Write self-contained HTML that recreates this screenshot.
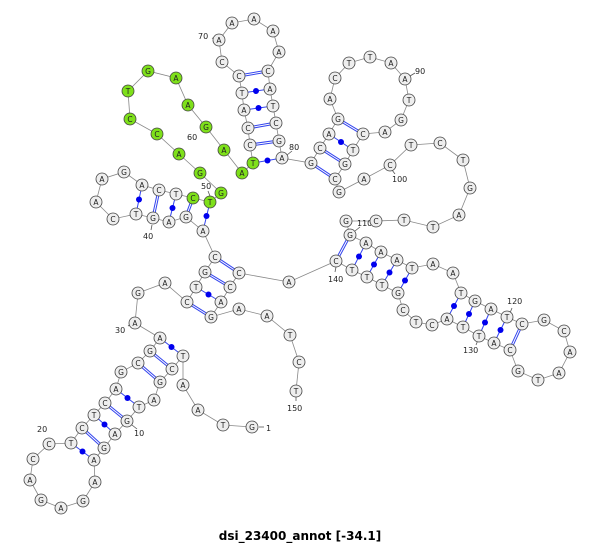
<!DOCTYPE html>
<html><head><meta charset="utf-8"><style>
html,body{margin:0;padding:0;background:#fff;width:600px;height:544px;overflow:hidden}
svg{display:block}
.n circle{fill:#eee;stroke:#444;stroke-width:0.8}
.n circle.g{fill:#7ee01a}
.t text{font-family:"DejaVu Sans","Liberation Sans",sans-serif;font-size:7.5px;text-anchor:middle;fill:#222}
.l text{font-family:"DejaVu Sans","Liberation Sans",sans-serif;font-size:8px;fill:#222}
</style></head><body>
<svg width="600" height="544" viewBox="0 0 600 544" xmlns="http://www.w3.org/2000/svg">
<polyline fill="none" stroke="#888" stroke-width="0.8" points="252,427 223,425 198,410 183,385 183,356 172,369 160,382 154,400 139,407 127,421 115,434 104,448 94,460 95,482 83,501 61,508 41,500 30,480 33,459 49,444 71,443 82,428 94,415 105,403 116,389 121,372 138,363 150,351 160,338 135,323 138,293 165,283 187,302 196,287 205,272 215,257 203,231 186,217 169,222 153,218 136,214 113,219 96,202 102,179 124,172 142,185 159,190 176,194 193,198 210,202 221,193 200,173 179,154 157,134 130,119 128,91 148,71 176,78 188,105 206,127 224,150 242,173 253,163 250,145 248,128 244,110 242,93 239,76 222,62 219,40 232,23 254,19 273,31 279,52 268,71 270,89 273,106 276,123 279,141 282,158 311,163 320,148 329,134 338,119 330,99 335,78 349,63 370,57 391,63 405,79 409,100 401,120 385,132 363,134 353,150 345,164 335,179 339,192 364,179 390,165 411,145 440,143 463,160 470,188 459,215 433,227 404,220 376,221 346,221 350,235 366,243 381,252 397,260 412,268 433,264 453,273 461,293 475,301 491,309 507,317 522,324 544,320 564,331 570,352 559,373 538,380 518,371 510,350 494,343 479,336 463,327 447,319 432,325 416,322 403,310 398,293 382,285 367,277 352,270 336,261 289,282 239,273 230,287 221,302 211,317 239,309 267,316 290,335 299,362 296,391"/>
<g stroke="#3344ee" stroke-width="3">
<line x1="172" y1="369" x2="150" y2="351"/><line x1="160" y1="382" x2="138" y2="363"/><line x1="127" y1="421" x2="105" y2="403"/><line x1="104" y1="448" x2="82" y2="428"/>
<line x1="187" y1="302" x2="211" y2="317"/><line x1="205" y1="272" x2="230" y2="287"/><line x1="215" y1="257" x2="239" y2="273"/>
<line x1="186" y1="217" x2="193" y2="198"/><line x1="153" y1="218" x2="159" y2="190"/>
<line x1="250" y1="145" x2="279" y2="141"/><line x1="248" y1="128" x2="276" y2="123"/><line x1="239" y1="76" x2="268" y2="71"/>
<line x1="311" y1="163" x2="335" y2="179"/><line x1="320" y1="148" x2="345" y2="164"/><line x1="338" y1="119" x2="363" y2="134"/>
<line x1="350" y1="235" x2="336" y2="261"/><line x1="522" y1="324" x2="510" y2="350"/>
</g>
<g stroke="#fff" stroke-width="1">
<line x1="172" y1="369" x2="150" y2="351"/><line x1="160" y1="382" x2="138" y2="363"/><line x1="127" y1="421" x2="105" y2="403"/><line x1="104" y1="448" x2="82" y2="428"/>
<line x1="187" y1="302" x2="211" y2="317"/><line x1="205" y1="272" x2="230" y2="287"/><line x1="215" y1="257" x2="239" y2="273"/>
<line x1="186" y1="217" x2="193" y2="198"/><line x1="153" y1="218" x2="159" y2="190"/>
<line x1="250" y1="145" x2="279" y2="141"/><line x1="248" y1="128" x2="276" y2="123"/><line x1="239" y1="76" x2="268" y2="71"/>
<line x1="311" y1="163" x2="335" y2="179"/><line x1="320" y1="148" x2="345" y2="164"/><line x1="338" y1="119" x2="363" y2="134"/>
<line x1="350" y1="235" x2="336" y2="261"/><line x1="522" y1="324" x2="510" y2="350"/>
</g>
<g stroke="#3344ee" stroke-width="1">
<line x1="183" y1="356" x2="160" y2="338"/><line x1="139" y1="407" x2="116" y2="389"/><line x1="115" y1="434" x2="94" y2="415"/><line x1="94" y1="460" x2="71" y2="443"/>
<line x1="196" y1="287" x2="221" y2="302"/><line x1="203" y1="231" x2="210" y2="202"/><line x1="169" y1="222" x2="176" y2="194"/><line x1="136" y1="214" x2="142" y2="185"/>
<line x1="253" y1="163" x2="282" y2="158"/><line x1="244" y1="110" x2="273" y2="106"/><line x1="242" y1="93" x2="270" y2="89"/>
<line x1="329" y1="134" x2="353" y2="150"/>
<line x1="366" y1="243" x2="352" y2="270"/><line x1="381" y1="252" x2="367" y2="277"/><line x1="397" y1="260" x2="382" y2="285"/><line x1="412" y1="268" x2="398" y2="293"/>
<line x1="461" y1="293" x2="447" y2="319"/><line x1="475" y1="301" x2="463" y2="327"/><line x1="491" y1="309" x2="479" y2="336"/><line x1="507" y1="317" x2="494" y2="343"/>
</g>
<g fill="#0000ee">
<circle cx="171.5" cy="347" r="3"/><circle cx="127.5" cy="398" r="3"/><circle cx="104.5" cy="424.5" r="3"/><circle cx="82.5" cy="451.5" r="3"/>
<circle cx="208.5" cy="294.5" r="3"/><circle cx="206.5" cy="216" r="3"/><circle cx="172.5" cy="208" r="3"/><circle cx="139" cy="199.5" r="3"/>
<circle cx="267.5" cy="160.5" r="3"/><circle cx="258.5" cy="108" r="3"/><circle cx="256" cy="91" r="3"/><circle cx="341" cy="142" r="3"/>
<circle cx="359" cy="256.5" r="3"/><circle cx="374" cy="264.5" r="3"/><circle cx="389.5" cy="272.5" r="3"/><circle cx="405" cy="280.5" r="3"/>
<circle cx="454" cy="306" r="3"/><circle cx="469" cy="314" r="3"/><circle cx="485" cy="322.5" r="3"/><circle cx="500.5" cy="330" r="3"/>
</g>
<g stroke="#555" stroke-width="0.8">
<line x1="259" y1="427" x2="264" y2="427"/><line x1="132" y1="425" x2="137" y2="429"/><line x1="45" y1="439" x2="49" y2="444"/><line x1="128" y1="326" x2="133" y2="323"/>
<line x1="152" y1="225" x2="151" y2="230"/><line x1="208" y1="191" x2="210" y2="196"/><line x1="201" y1="131" x2="205" y2="127"/><line x1="212" y1="38" x2="217" y2="40"/>
<line x1="287" y1="155" x2="292" y2="151"/><line x1="410" y1="76" x2="415" y2="73"/><line x1="392" y1="170" x2="395" y2="174"/><line x1="355" y1="231" x2="360" y2="227"/>
<line x1="510" y1="313" x2="512" y2="308"/><line x1="478" y1="340" x2="476" y2="345"/><line x1="336" y1="267" x2="335" y2="272"/><line x1="296" y1="397" x2="296" y2="401"/>
</g>
<g class="l">
<text x="266" y="431">1</text><text x="134" y="436">10</text><text x="37" y="432">20</text><text x="115" y="333">30</text>
<text x="143" y="239">40</text><text x="201" y="189">50</text><text x="187" y="140">60</text><text x="198" y="39">70</text>
<text x="289" y="150">80</text><text x="415" y="74">90</text><text x="392" y="182">100</text><text x="357" y="226">110</text>
<text x="507" y="304">120</text><text x="463" y="353">130</text><text x="328" y="282">140</text><text x="287" y="411">150</text>
</g>
<g class="n">
<circle cx="252" cy="427" r="6"/><circle cx="223" cy="425" r="6"/><circle cx="198" cy="410" r="6"/><circle cx="183" cy="385" r="6"/><circle cx="183" cy="356" r="6"/><circle cx="172" cy="369" r="6"/><circle cx="160" cy="382" r="6"/><circle cx="154" cy="400" r="6"/><circle cx="139" cy="407" r="6"/><circle cx="127" cy="421" r="6"/>
<circle cx="115" cy="434" r="6"/><circle cx="104" cy="448" r="6"/><circle cx="94" cy="460" r="6"/><circle cx="95" cy="482" r="6"/><circle cx="83" cy="501" r="6"/><circle cx="61" cy="508" r="6"/><circle cx="41" cy="500" r="6"/><circle cx="30" cy="480" r="6"/><circle cx="33" cy="459" r="6"/><circle cx="49" cy="444" r="6"/>
<circle cx="71" cy="443" r="6"/><circle cx="82" cy="428" r="6"/><circle cx="94" cy="415" r="6"/><circle cx="105" cy="403" r="6"/><circle cx="116" cy="389" r="6"/><circle cx="121" cy="372" r="6"/><circle cx="138" cy="363" r="6"/><circle cx="150" cy="351" r="6"/><circle cx="160" cy="338" r="6"/><circle cx="135" cy="323" r="6"/>
<circle cx="138" cy="293" r="6"/><circle cx="165" cy="283" r="6"/><circle cx="187" cy="302" r="6"/><circle cx="196" cy="287" r="6"/><circle cx="205" cy="272" r="6"/><circle cx="215" cy="257" r="6"/><circle cx="203" cy="231" r="6"/><circle cx="186" cy="217" r="6"/><circle cx="169" cy="222" r="6"/><circle cx="153" cy="218" r="6"/>
<circle cx="136" cy="214" r="6"/><circle cx="113" cy="219" r="6"/><circle cx="96" cy="202" r="6"/><circle cx="102" cy="179" r="6"/><circle cx="124" cy="172" r="6"/><circle cx="142" cy="185" r="6"/><circle cx="159" cy="190" r="6"/><circle cx="176" cy="194" r="6"/><circle class="g" cx="193" cy="198" r="6"/><circle class="g" cx="210" cy="202" r="6"/>
<circle class="g" cx="221" cy="193" r="6"/><circle class="g" cx="200" cy="173" r="6"/><circle class="g" cx="179" cy="154" r="6"/><circle class="g" cx="157" cy="134" r="6"/><circle class="g" cx="130" cy="119" r="6"/><circle class="g" cx="128" cy="91" r="6"/><circle class="g" cx="148" cy="71" r="6"/><circle class="g" cx="176" cy="78" r="6"/><circle class="g" cx="188" cy="105" r="6"/><circle class="g" cx="206" cy="127" r="6"/>
<circle class="g" cx="224" cy="150" r="6"/><circle class="g" cx="242" cy="173" r="6"/><circle class="g" cx="253" cy="163" r="6"/><circle cx="250" cy="145" r="6"/><circle cx="248" cy="128" r="6"/><circle cx="244" cy="110" r="6"/><circle cx="242" cy="93" r="6"/><circle cx="239" cy="76" r="6"/><circle cx="222" cy="62" r="6"/><circle cx="219" cy="40" r="6"/>
<circle cx="232" cy="23" r="6"/><circle cx="254" cy="19" r="6"/><circle cx="273" cy="31" r="6"/><circle cx="279" cy="52" r="6"/><circle cx="268" cy="71" r="6"/><circle cx="270" cy="89" r="6"/><circle cx="273" cy="106" r="6"/><circle cx="276" cy="123" r="6"/><circle cx="279" cy="141" r="6"/><circle cx="282" cy="158" r="6"/>
<circle cx="311" cy="163" r="6"/><circle cx="320" cy="148" r="6"/><circle cx="329" cy="134" r="6"/><circle cx="338" cy="119" r="6"/><circle cx="330" cy="99" r="6"/><circle cx="335" cy="78" r="6"/><circle cx="349" cy="63" r="6"/><circle cx="370" cy="57" r="6"/><circle cx="391" cy="63" r="6"/><circle cx="405" cy="79" r="6"/>
<circle cx="409" cy="100" r="6"/><circle cx="401" cy="120" r="6"/><circle cx="385" cy="132" r="6"/><circle cx="363" cy="134" r="6"/><circle cx="353" cy="150" r="6"/><circle cx="345" cy="164" r="6"/><circle cx="335" cy="179" r="6"/><circle cx="339" cy="192" r="6"/><circle cx="364" cy="179" r="6"/><circle cx="390" cy="165" r="6"/>
<circle cx="411" cy="145" r="6"/><circle cx="440" cy="143" r="6"/><circle cx="463" cy="160" r="6"/><circle cx="470" cy="188" r="6"/><circle cx="459" cy="215" r="6"/><circle cx="433" cy="227" r="6"/><circle cx="404" cy="220" r="6"/><circle cx="376" cy="221" r="6"/><circle cx="346" cy="221" r="6"/><circle cx="350" cy="235" r="6"/>
<circle cx="366" cy="243" r="6"/><circle cx="381" cy="252" r="6"/><circle cx="397" cy="260" r="6"/><circle cx="412" cy="268" r="6"/><circle cx="433" cy="264" r="6"/><circle cx="453" cy="273" r="6"/><circle cx="461" cy="293" r="6"/><circle cx="475" cy="301" r="6"/><circle cx="491" cy="309" r="6"/><circle cx="507" cy="317" r="6"/>
<circle cx="522" cy="324" r="6"/><circle cx="544" cy="320" r="6"/><circle cx="564" cy="331" r="6"/><circle cx="570" cy="352" r="6"/><circle cx="559" cy="373" r="6"/><circle cx="538" cy="380" r="6"/><circle cx="518" cy="371" r="6"/><circle cx="510" cy="350" r="6"/><circle cx="494" cy="343" r="6"/><circle cx="479" cy="336" r="6"/>
<circle cx="463" cy="327" r="6"/><circle cx="447" cy="319" r="6"/><circle cx="432" cy="325" r="6"/><circle cx="416" cy="322" r="6"/><circle cx="403" cy="310" r="6"/><circle cx="398" cy="293" r="6"/><circle cx="382" cy="285" r="6"/><circle cx="367" cy="277" r="6"/><circle cx="352" cy="270" r="6"/><circle cx="336" cy="261" r="6"/>
<circle cx="289" cy="282" r="6"/><circle cx="239" cy="273" r="6"/><circle cx="230" cy="287" r="6"/><circle cx="221" cy="302" r="6"/><circle cx="211" cy="317" r="6"/><circle cx="239" cy="309" r="6"/><circle cx="267" cy="316" r="6"/><circle cx="290" cy="335" r="6"/><circle cx="299" cy="362" r="6"/><circle cx="296" cy="391" r="6"/>
</g>
<g class="t">
<text x="252" y="430">G</text><text x="223" y="428">T</text><text x="198" y="413">A</text><text x="183" y="388">A</text><text x="183" y="359">T</text><text x="172" y="372">C</text><text x="160" y="385">G</text><text x="154" y="403">A</text><text x="139" y="410">T</text><text x="127" y="424">G</text>
<text x="115" y="437">A</text><text x="104" y="451">G</text><text x="94" y="463">A</text><text x="95" y="485">A</text><text x="83" y="504">G</text><text x="61" y="511">A</text><text x="41" y="503">G</text><text x="30" y="483">A</text><text x="33" y="462">C</text><text x="49" y="447">C</text>
<text x="71" y="446">T</text><text x="82" y="431">C</text><text x="94" y="418">T</text><text x="105" y="406">C</text><text x="116" y="392">A</text><text x="121" y="375">G</text><text x="138" y="366">C</text><text x="150" y="354">G</text><text x="160" y="341">A</text><text x="135" y="326">A</text>
<text x="138" y="296">G</text><text x="165" y="286">A</text><text x="187" y="305">C</text><text x="196" y="290">T</text><text x="205" y="275">G</text><text x="215" y="260">C</text><text x="203" y="234">A</text><text x="186" y="220">G</text><text x="169" y="225">A</text><text x="153" y="221">G</text>
<text x="136" y="217">T</text><text x="113" y="222">C</text><text x="96" y="205">A</text><text x="102" y="182">A</text><text x="124" y="175">G</text><text x="142" y="188">A</text><text x="159" y="193">C</text><text x="176" y="197">T</text><text x="193" y="201">C</text><text x="210" y="205">T</text>
<text x="221" y="196">G</text><text x="200" y="176">G</text><text x="179" y="157">A</text><text x="157" y="137">C</text><text x="130" y="122">C</text><text x="128" y="94">T</text><text x="148" y="74">G</text><text x="176" y="81">A</text><text x="188" y="108">A</text><text x="206" y="130">G</text>
<text x="224" y="153">A</text><text x="242" y="176">A</text><text x="253" y="166">T</text><text x="250" y="148">C</text><text x="248" y="131">C</text><text x="244" y="113">A</text><text x="242" y="96">T</text><text x="239" y="79">C</text><text x="222" y="65">C</text><text x="219" y="43">A</text>
<text x="232" y="26">A</text><text x="254" y="22">A</text><text x="273" y="34">A</text><text x="279" y="55">A</text><text x="268" y="74">C</text><text x="270" y="92">A</text><text x="273" y="109">T</text><text x="276" y="126">C</text><text x="279" y="144">G</text><text x="282" y="161">A</text>
<text x="311" y="166">G</text><text x="320" y="151">C</text><text x="329" y="137">A</text><text x="338" y="122">G</text><text x="330" y="102">A</text><text x="335" y="81">C</text><text x="349" y="66">T</text><text x="370" y="60">T</text><text x="391" y="66">A</text><text x="405" y="82">A</text>
<text x="409" y="103">T</text><text x="401" y="123">G</text><text x="385" y="135">A</text><text x="363" y="137">C</text><text x="353" y="153">T</text><text x="345" y="167">G</text><text x="335" y="182">C</text><text x="339" y="195">G</text><text x="364" y="182">A</text><text x="390" y="168">C</text>
<text x="411" y="148">T</text><text x="440" y="146">C</text><text x="463" y="163">T</text><text x="470" y="191">G</text><text x="459" y="218">A</text><text x="433" y="230">T</text><text x="404" y="223">T</text><text x="376" y="224">C</text><text x="346" y="224">G</text><text x="350" y="238">G</text>
<text x="366" y="246">A</text><text x="381" y="255">A</text><text x="397" y="263">A</text><text x="412" y="271">T</text><text x="433" y="267">A</text><text x="453" y="276">A</text><text x="461" y="296">T</text><text x="475" y="304">G</text><text x="491" y="312">A</text><text x="507" y="320">T</text>
<text x="522" y="327">C</text><text x="544" y="323">G</text><text x="564" y="334">C</text><text x="570" y="355">A</text><text x="559" y="376">A</text><text x="538" y="383">T</text><text x="518" y="374">G</text><text x="510" y="353">C</text><text x="494" y="346">A</text><text x="479" y="339">T</text>
<text x="463" y="330">T</text><text x="447" y="322">A</text><text x="432" y="328">C</text><text x="416" y="325">T</text><text x="403" y="313">C</text><text x="398" y="296">G</text><text x="382" y="288">T</text><text x="367" y="280">T</text><text x="352" y="273">T</text><text x="336" y="264">C</text>
<text x="289" y="285">A</text><text x="239" y="276">C</text><text x="230" y="290">C</text><text x="221" y="305">A</text><text x="211" y="320">G</text><text x="239" y="312">A</text><text x="267" y="319">A</text><text x="290" y="338">T</text><text x="299" y="365">C</text><text x="296" y="394">T</text>
</g>
<text x="300" y="540" text-anchor="middle" font-family="'DejaVu Sans','Liberation Sans',sans-serif" font-size="12" font-weight="bold" fill="#000">dsi_23400_annot [-34.1]</text>
</svg>
</body></html>
